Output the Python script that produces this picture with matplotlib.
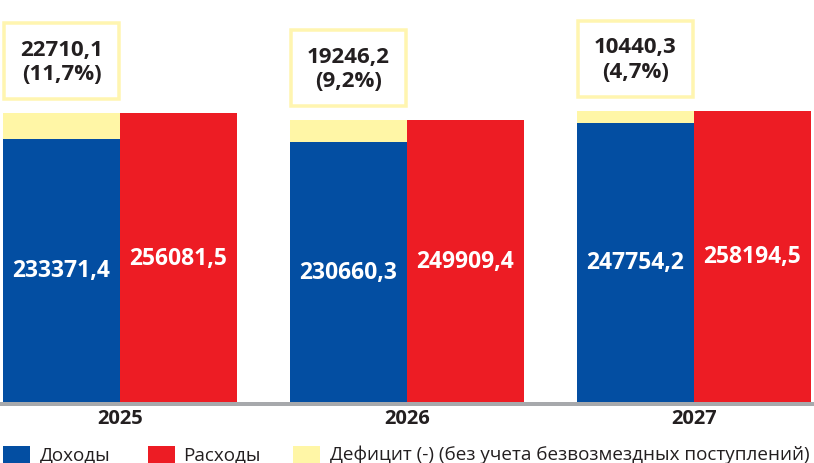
import numpy as np
import matplotlib.pyplot as plt
from matplotlib.patches import Rectangle

years = ['2025', '2026', '2027']
income = [233371.4, 230660.3, 247754.2]
spending = [256081.5, 249909.4, 258194.5]
deficit = [22710.1, 19246.2, 10440.3]
deficit_pct = ['11,7%', '9,2%', '4,7%']

income_lbl = ['233371,4', '230660,3', '247754,2']
spending_lbl = ['256081,5', '249909,4', '258194,5']
deficit_lbl = ['22710,1', '19246,2', '10440,3']

blue = '#034ea2'
red = '#ed1c24'
yellow = '#fff6a6'
box_edge = '#fff5b0'
dark = '#231f20'
gray = '#a7a9ac'

num_font = ['Open Sans', 'DejaVu Sans']
leg_font = ['Open Sans', 'DejaVu Sans']

W, H = 814, 464
fig = plt.figure(figsize=(W / 100, H / 100), dpi=100)

# one pixel in data units
upp = 887.0
ax = fig.add_axes([0, (H - 409) / H, 1, 409 / H])
ax.set_ylim(-6 * upp, 403 * upp)
ax.set_xlim(-120 / 287, 2 + 120 / 287)
ax.axis('off')

x = np.arange(len(years))
w = 117 / 287

ax.bar(x - w / 2, income, width=w, color=blue, zorder=2)
ax.bar(x - w / 2, deficit, width=w, bottom=income, color=yellow, zorder=2)
ax.bar(x + w / 2, spending, width=w, color=red, zorder=2)

ax.axhline(-2 * upp, color=gray, lw=4 * 0.72, zorder=1, clip_on=False)

for i in range(len(years)):
    ax.text(x[i] - w / 2, income[i] / 2, income_lbl[i], color='white',
            fontsize=16.5, fontweight='bold', family=num_font,
            ha='center', va='center', zorder=3)
    ax.text(x[i] + w / 2, spending[i] / 2, spending_lbl[i], color='white',
            fontsize=16.5, fontweight='bold', family=num_font,
            ha='center', va='center', zorder=3)

    # deficit box above the bars
    y0 = spending[i] + 14 * upp
    bh = 76 * upp
    ax.add_patch(Rectangle((x[i] - w + 0.004, y0), w - 0.008, bh,
                           facecolor='white', edgecolor=box_edge,
                           lw=3.5 * 0.72, zorder=3, clip_on=False))
    ax.text(x[i] - w / 2, y0 + bh / 2,
            deficit_lbl[i] + '\n(' + deficit_pct[i] + ')',
            color=dark, fontsize=16, fontweight='bold', family=num_font,
            ha='center', va='center', linespacing=1.2, zorder=4)

    ax.text(x[i], -16 * upp, years[i], color=dark, fontsize=14.5,
            fontweight='bold', family=num_font, ha='center', va='center')

# legend
leg_items = [(3, 40, blue, 'Доходы'), (148, 183, red, 'Расходы'),
             (293, 330, yellow, 'Дефицит (-) (без учета безвозмездных поступлений)')]
for sx, tx, c, lbl in leg_items:
    fig.patches.append(Rectangle((sx / W, 0), 27 / W, 17 / H, facecolor=c,
                                 edgecolor='none', transform=fig.transFigure))
    fig.text(tx / W, 1 - 455 / H, lbl, color=dark, fontsize=13.6,
             family=leg_font, ha='left', va='center')

fig.savefig('out.png', dpi=100)
